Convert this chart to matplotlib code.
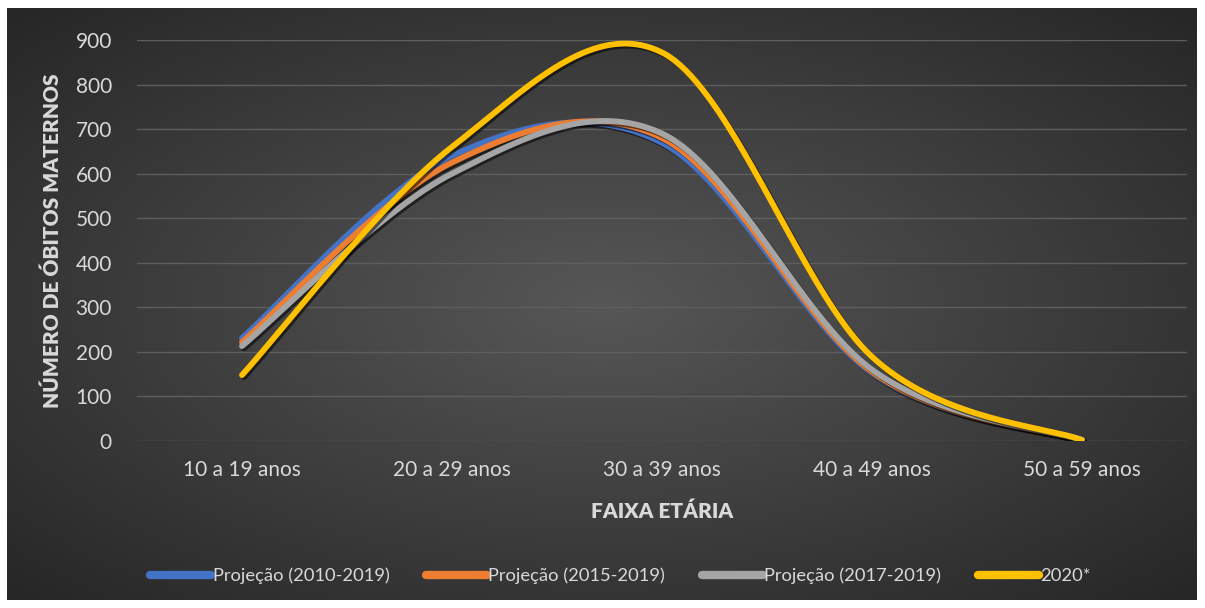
import numpy as np
import matplotlib
matplotlib.use('Agg')
import matplotlib.pyplot as plt
import matplotlib.patheffects as pe

plt.rcParams['font.family'] = ['Lato', 'DejaVu Sans']

faixas = ['10 a 19 anos', '20 a 29 anos', '30 a 39 anos', '40 a 49 anos', '50 a 59 anos']
proj_2010_2019 = [231, 640, 669, 152, 3]
proj_2015_2019 = [222, 625, 680, 155, 2]
proj_2017_2019 = [213, 600, 690, 160, 2]
obitos_2020 = [148, 660, 872, 189, 2]

series = [
    ('Projeção (2010-2019)', proj_2010_2019, '#4472c4'),
    ('Projeção (2015-2019)', proj_2015_2019, '#ed7d31'),
    ('Projeção (2017-2019)', proj_2017_2019, '#a5a5a5'),
    ('2020*', obitos_2020, '#ffc000'),
]
txt = '#d9d9d9'


def smooth(vals, n=80):
    # bezier smoothing through the points, same style as spreadsheet "smoothed line"
    pts = np.column_stack([np.arange(len(vals)), np.asarray(vals, float)])
    t = np.linspace(0, 1, n)[:, None]
    segs = []
    for i in range(len(pts) - 1):
        p0 = pts[max(i - 1, 0)]
        p1, p2 = pts[i], pts[i + 1]
        p3 = pts[min(i + 2, len(pts) - 1)]
        c1 = p1 + (p2 - p0) / 6
        c2 = p2 - (p3 - p1) / 6
        segs.append((1 - t) ** 3 * p1 + 3 * (1 - t) ** 2 * t * c1
                    + 3 * (1 - t) * t ** 2 * c2 + t ** 3 * p2)
    return np.vstack(segs)


fig = plt.figure(figsize=(12.05, 6.08), dpi=100)
fig.patch.set_facecolor('white')

# dark radial background
bg = fig.add_axes([7 / 1205, 8 / 608, 1190 / 1205, 592 / 608], zorder=-1)
gx, gy = np.meshgrid(np.linspace(-1, 1, 600), np.linspace(-1, 1, 300))
r = np.clip(np.sqrt(gx ** 2 + gy ** 2) / np.sqrt(2), 0, 1)
shade = 0.34 - 0.19 * r
bg.imshow(np.dstack([shade] * 3), aspect='auto', extent=[0, 1, 0, 1])
bg.axis('off')

ax = fig.add_axes([137 / 1205, 1 - 441 / 608, 1050 / 1205, 401 / 608])
ax.set_facecolor('none')
for s in ax.spines.values():
    s.set_visible(False)

for name, vals, col in series:
    c = smooth(vals)
    ax.plot(c[:, 0], c[:, 1], color=col, lw=4.2, label=name,
            solid_capstyle='round',
            path_effects=[pe.SimpleLineShadow(offset=(1.5, -1.5), shadow_color='black', alpha=0.55),
                          pe.Normal()])

ax.set_xlim(-0.5, len(faixas) - 0.5)
ax.set_ylim(0, 900)
ax.set_yticks(range(0, 901, 100))
ax.set_xticks(range(len(faixas)))
ax.set_xticklabels(faixas)
ax.grid(axis='y', color='#5e5e5e', lw=1)
ax.set_axisbelow(True)
ax.tick_params(length=0, colors=txt, labelsize=15)
ax.tick_params(axis='y', pad=18)
ax.tick_params(axis='x', pad=14)

ax.set_xlabel('FAIXA ETÁRIA', color=txt, fontsize=15, fontweight='heavy', labelpad=15)
ax.set_ylabel('NÚMERO DE ÓBITOS MATERNOS', color=txt, fontsize=15, fontweight='heavy', labelpad=10)

leg = fig.legend(loc='lower center', ncol=4, frameon=False, bbox_to_anchor=(0.515, 0.012),
                 fontsize=13.2, handlelength=3.3, handletextpad=0.1, columnspacing=2.0)
for t_ in leg.get_texts():
    t_.set_color(txt)
for h in leg.get_lines():
    h.set_linewidth(6)
    h.set_path_effects([])

fig.savefig('out.png', dpi=100, facecolor='white')
